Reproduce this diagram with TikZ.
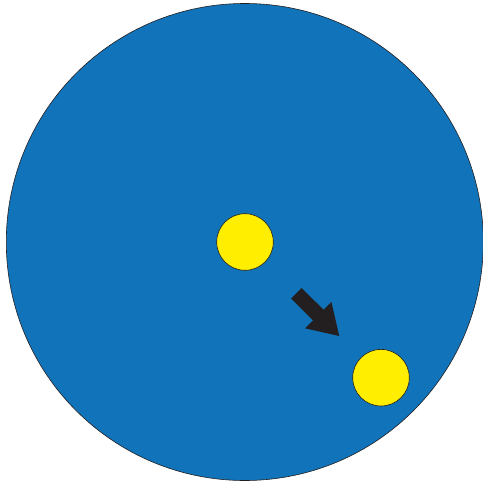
\documentclass[tikz,border=0pt]{standalone}
\usetikzlibrary{arrows.meta}
\definecolor{discblue}{HTML}{1173B9}
\definecolor{ballyellow}{HTML}{FFEE00}
\definecolor{arrowblack}{HTML}{231F20}

\begin{document}
\begin{tikzpicture}[
  x=1pt, y=-1pt,
  disc/.style={circle, draw=arrowblack, line width=0.6pt, fill=discblue,
               minimum size=477pt, inner sep=0pt},
  ball/.style={circle, draw=arrowblack, line width=0.6pt, fill=ballyellow,
               minimum size=56.6pt, inner sep=0pt},
  push/.style={-{Triangle[length=30pt, width=35pt]}, line width=15pt, arrowblack}
]
  \useasboundingbox (0,0) rectangle (483,482);

  \node[disc] (d) at (244.8,242) {};
  \node[ball] (b1) at (245,242) {};
  \node[ball] (b2) at (381,377.7) {};

  % motion of the ball
  \draw[push, shorten <=44pt, shorten >=30pt] (b1) -- (b2);
\end{tikzpicture}
\end{document}
